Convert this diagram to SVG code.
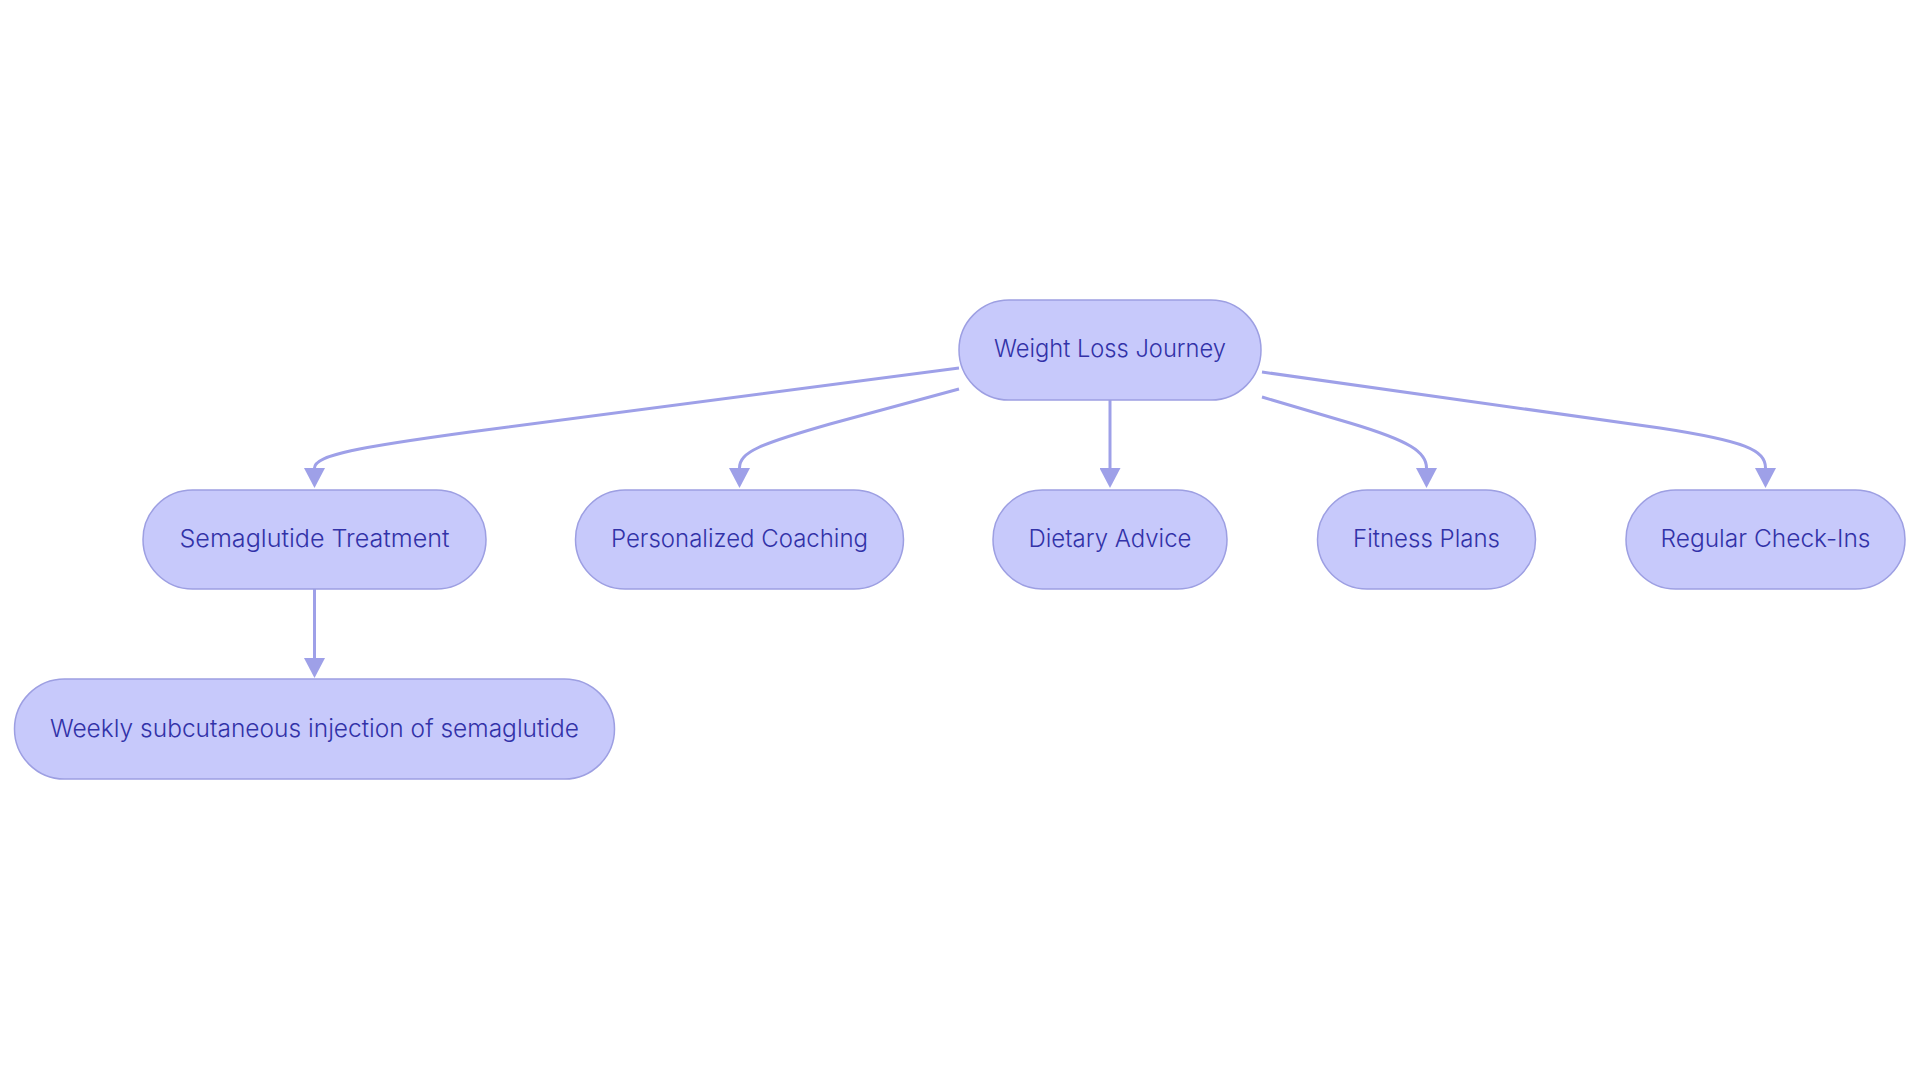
<svg xmlns="http://www.w3.org/2000/svg" width="1920" height="1083" viewBox="0 0 1920 1083">
  <style>
    .node rect { fill: #c7c9fb; stroke: #9d9fe2; stroke-width: 1.5; }
    .node text { font-family: Inter, "Noto Sans", "Liberation Sans", sans-serif; font-size: 24px; font-weight: 300; fill: #3232a8; text-anchor: middle; }
    .edge { fill: none; stroke: #9ea0e8; stroke-width: 3; }
  </style>
  <defs>
    <marker id="arrow" markerUnits="userSpaceOnUse" markerWidth="20" markerHeight="21" viewBox="0 0 20 21" refX="0" refY="10.5" orient="auto">
      <path d="M0,0 L20,10.5 L0,21 z" fill="#9ea0e8"/>
    </marker>
  </defs>
  <rect width="1920" height="1083" fill="#ffffff"/>
  <g id="connectors">
    <path class="edge" marker-end="url(#arrow)" d="M959,368 L470,432 C360,447 314.5,455 314.5,468"/>
    <path class="edge" marker-end="url(#arrow)" d="M959,389 L830,424 C760,444 739.5,452 739.5,468"/>
    <path class="edge" marker-end="url(#arrow)" d="M1110,400 L1110,468"/>
    <path class="edge" marker-end="url(#arrow)" d="M1262,397 L1350,423 C1410,441 1426.5,452 1426.5,468"/>
    <path class="edge" marker-end="url(#arrow)" d="M1262,372 L1660,428 C1745,441 1765.5,450 1765.5,468"/>
    <path class="edge" marker-end="url(#arrow)" d="M314.5,589 L314.5,658"/>
  </g>
  <g id="node-root" class="node">
    <rect x="959" y="300" width="302" height="100" rx="50" ry="50"/>
    <text x="1110" y="357" textLength="232" lengthAdjust="spacingAndGlyphs">Weight Loss Journey</text>
  </g>
  <g id="node-semaglutide" class="node">
    <rect x="143" y="490" width="343" height="99" rx="49.5" ry="49.5"/>
    <text x="314.5" y="547" textLength="270" lengthAdjust="spacingAndGlyphs">Semaglutide Treatment</text>
  </g>
  <g id="node-coaching" class="node">
    <rect x="575.5" y="490" width="328" height="99" rx="49.5" ry="49.5"/>
    <text x="739.5" y="547" textLength="257" lengthAdjust="spacingAndGlyphs">Personalized Coaching</text>
  </g>
  <g id="node-dietary" class="node">
    <rect x="993" y="490" width="234" height="99" rx="49.5" ry="49.5"/>
    <text x="1110" y="547" textLength="163" lengthAdjust="spacingAndGlyphs">Dietary Advice</text>
  </g>
  <g id="node-fitness" class="node">
    <rect x="1317.5" y="490" width="218" height="99" rx="49.5" ry="49.5"/>
    <text x="1426.5" y="547" textLength="147" lengthAdjust="spacingAndGlyphs">Fitness Plans</text>
  </g>
  <g id="node-checkins" class="node">
    <rect x="1626" y="490" width="279" height="99" rx="49.5" ry="49.5"/>
    <text x="1765.5" y="547" textLength="210" lengthAdjust="spacingAndGlyphs">Regular Check-Ins</text>
  </g>
  <g id="node-weekly" class="node">
    <rect x="14.5" y="679" width="600" height="100" rx="50" ry="50"/>
    <text x="314.5" y="737" textLength="529" lengthAdjust="spacingAndGlyphs">Weekly subcutaneous injection of semaglutide</text>
  </g>
</svg>
